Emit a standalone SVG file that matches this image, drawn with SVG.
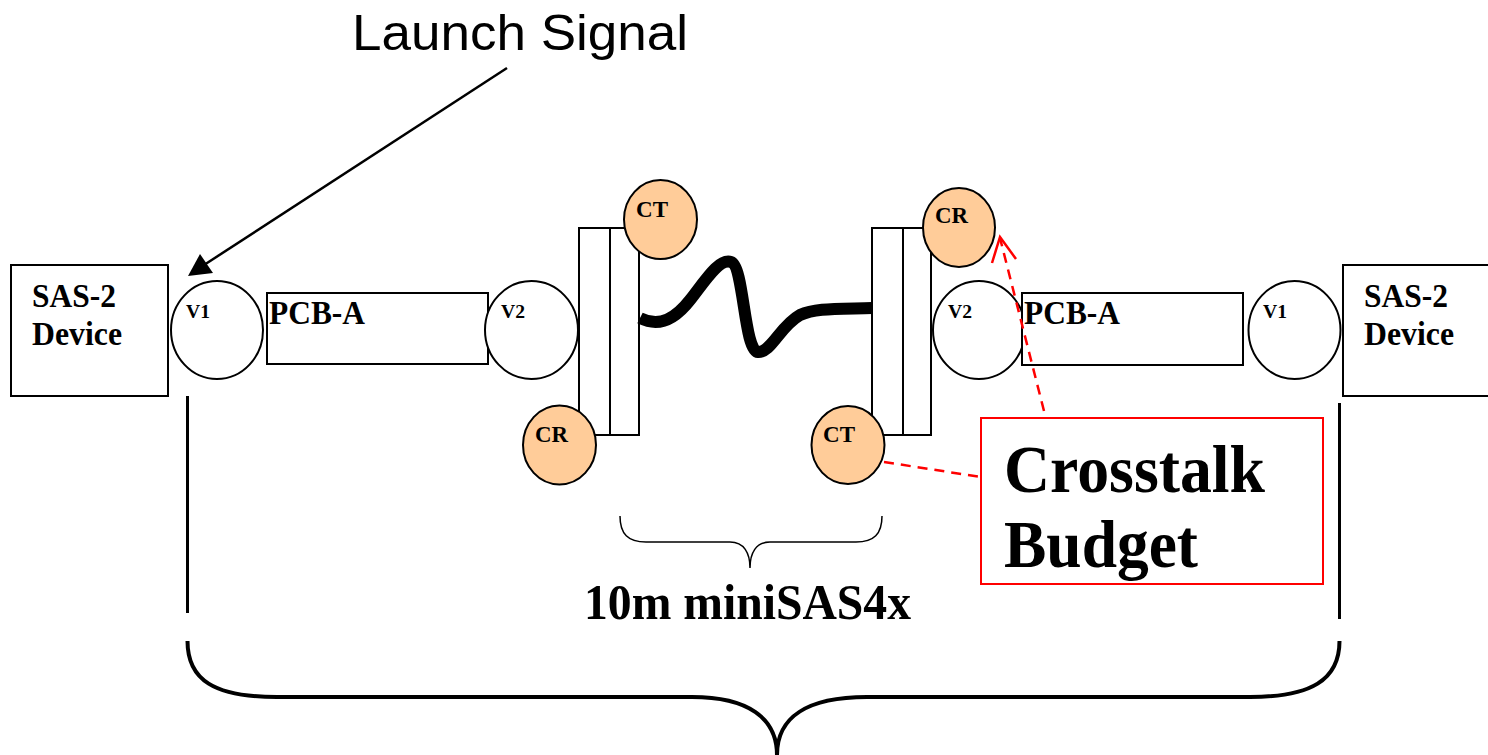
<svg xmlns="http://www.w3.org/2000/svg" width="1488" height="755" viewBox="0 0 1488 755">
<style>
.box{fill:#fff;stroke:#000;stroke-width:2}
.via{fill:#fff;stroke:#000;stroke-width:2}
.xt{fill:#ffcc99;stroke:#000;stroke-width:2}
.lbl{font-family:"Liberation Serif","Times New Roman",serif;font-weight:bold;fill:#000}
.red{fill:none;stroke:#ff0000;stroke-width:2.5;stroke-dasharray:10,7}
</style>
<rect width="1488" height="755" fill="#fff"/>

<g id="launch-label">
<text x="352" y="50" font-family="Liberation Sans, Arial, sans-serif" font-size="50" fill="#000" textLength="336" lengthAdjust="spacingAndGlyphs">Launch Signal</text>
</g>

<g id="sas2-left">
<rect class="box" x="11" y="265" width="157" height="131"/>
<text class="lbl" x="32" y="307" font-size="34" textLength="84" lengthAdjust="spacingAndGlyphs">SAS-2</text>
<text class="lbl" x="32" y="345" font-size="34" textLength="90" lengthAdjust="spacingAndGlyphs">Device</text>
</g>
<g id="v1-left">
<ellipse class="via" cx="217" cy="330" rx="46" ry="49"/>
<text class="lbl" x="186" y="318" font-size="19" textLength="24" lengthAdjust="spacingAndGlyphs">V1</text>
</g>
<g id="pcb-left">
<rect class="box" x="267" y="293" width="221" height="71"/>
<text class="lbl" x="269" y="324" font-size="33" textLength="96" lengthAdjust="spacingAndGlyphs">PCB-A</text>
</g>
<g id="v2-left">
<ellipse class="via" cx="531.5" cy="330" rx="46.5" ry="49"/>
<text class="lbl" x="501" y="318" font-size="19" textLength="24" lengthAdjust="spacingAndGlyphs">V2</text>
</g>
<g id="conn-left">
<rect class="box" x="579" y="228" width="60" height="207"/>
<line x1="610" y1="228" x2="610" y2="435" stroke="#000" stroke-width="2"/>
</g>
<g id="ct-top-left">
<ellipse class="xt" cx="660.5" cy="219.5" rx="36.5" ry="39.5"/>
<text class="lbl" x="636" y="217" font-size="24" textLength="32" lengthAdjust="spacingAndGlyphs">CT</text>
</g>
<g id="cr-bottom-left">
<ellipse class="xt" cx="559.5" cy="445" rx="36.5" ry="39.5"/>
<text class="lbl" x="535" y="442" font-size="24" textLength="33" lengthAdjust="spacingAndGlyphs">CR</text>
</g>

<g id="conn-right">
<rect class="box" x="872" y="228" width="59" height="207"/>
<line x1="903" y1="228" x2="903" y2="435" stroke="#000" stroke-width="2"/>
</g>
<g id="cr-top-right">
<ellipse class="xt" cx="959" cy="227.5" rx="36" ry="39.5"/>
<text class="lbl" x="935" y="223" font-size="24" textLength="33" lengthAdjust="spacingAndGlyphs">CR</text>
</g>
<g id="ct-bottom-right">
<ellipse class="xt" cx="848" cy="445" rx="36.5" ry="39"/>
<text class="lbl" x="823" y="442" font-size="24" textLength="32" lengthAdjust="spacingAndGlyphs">CT</text>
</g>
<g id="v2-right">
<ellipse class="via" cx="979" cy="330" rx="46" ry="49"/>
<text class="lbl" x="948" y="318" font-size="19" textLength="24" lengthAdjust="spacingAndGlyphs">V2</text>
</g>
<g id="pcb-right">
<rect class="box" x="1022" y="293" width="221" height="72"/>
<text class="lbl" x="1024" y="324" font-size="33" textLength="96" lengthAdjust="spacingAndGlyphs">PCB-A</text>
</g>
<g id="v1-right">
<ellipse class="via" cx="1294.5" cy="330" rx="46" ry="49"/>
<text class="lbl" x="1263" y="318" font-size="19" textLength="24" lengthAdjust="spacingAndGlyphs">V1</text>
</g>
<g id="sas2-right">
<rect class="box" x="1343" y="265" width="160" height="131"/>
<text class="lbl" x="1364" y="307" font-size="34" textLength="84" lengthAdjust="spacingAndGlyphs">SAS-2</text>
<text class="lbl" x="1364" y="345" font-size="34" textLength="90" lengthAdjust="spacingAndGlyphs">Device</text>
</g>

<g id="crosstalk-budget">
<rect x="981" y="418" width="342" height="166" fill="#fff" stroke="#ff0000" stroke-width="2"/>
<text class="lbl" x="1004" y="492" font-size="68" textLength="261" lengthAdjust="spacingAndGlyphs">Crosstalk</text>
<text class="lbl" x="1004" y="567" font-size="68" textLength="194" lengthAdjust="spacingAndGlyphs">Budget</text>
</g>

<g id="cable-label">
<text class="lbl" x="584" y="619" font-size="50" textLength="327" lengthAdjust="spacingAndGlyphs">10m miniSAS4x</text>
</g>

<g id="connectors">
<path d="M640,318 C660,328 676,318 690,300 C705,281 719,258 731,262 C744,266 744,351 758,352 C771,353 780,326 800,315 C815,308 835,309 872,308" fill="none" stroke="#000" stroke-width="12" stroke-linejoin="round"/>
<path d="M507,68 L204,265" fill="none" stroke="#000" stroke-width="2.5"/>
<polygon points="188,276 200,254 213,273" fill="#000"/>
<line class="red" x1="1044" y1="411" x2="1000" y2="238"/>
<path d="M992,263 L1000,237 L1016,259" fill="none" stroke="#ff0000" stroke-width="2.5"/>
<line class="red" x1="884" y1="462" x2="981" y2="477"/>
<path d="M620,516 C620,534 628,542 646,542 L730,542 C744,542 750,553 750,568 C750,553 756,542 770,542 L856,542 C874,542 882,534 882,516" fill="none" stroke="#000" stroke-width="1.5"/>
<line x1="187.5" y1="396" x2="187.5" y2="613" stroke="#000" stroke-width="3"/>
<line x1="1339.5" y1="403" x2="1339.5" y2="619" stroke="#000" stroke-width="3"/>
<path d="M187.5,641 C187.5,680 214,697 277,697 L692,697 C748,697 777,718 777,755 C777,718 806,697 867,697 L1250,697 C1311,697 1339.5,680 1339.5,641" fill="none" stroke="#000" stroke-width="4"/>
</g>
</svg>
